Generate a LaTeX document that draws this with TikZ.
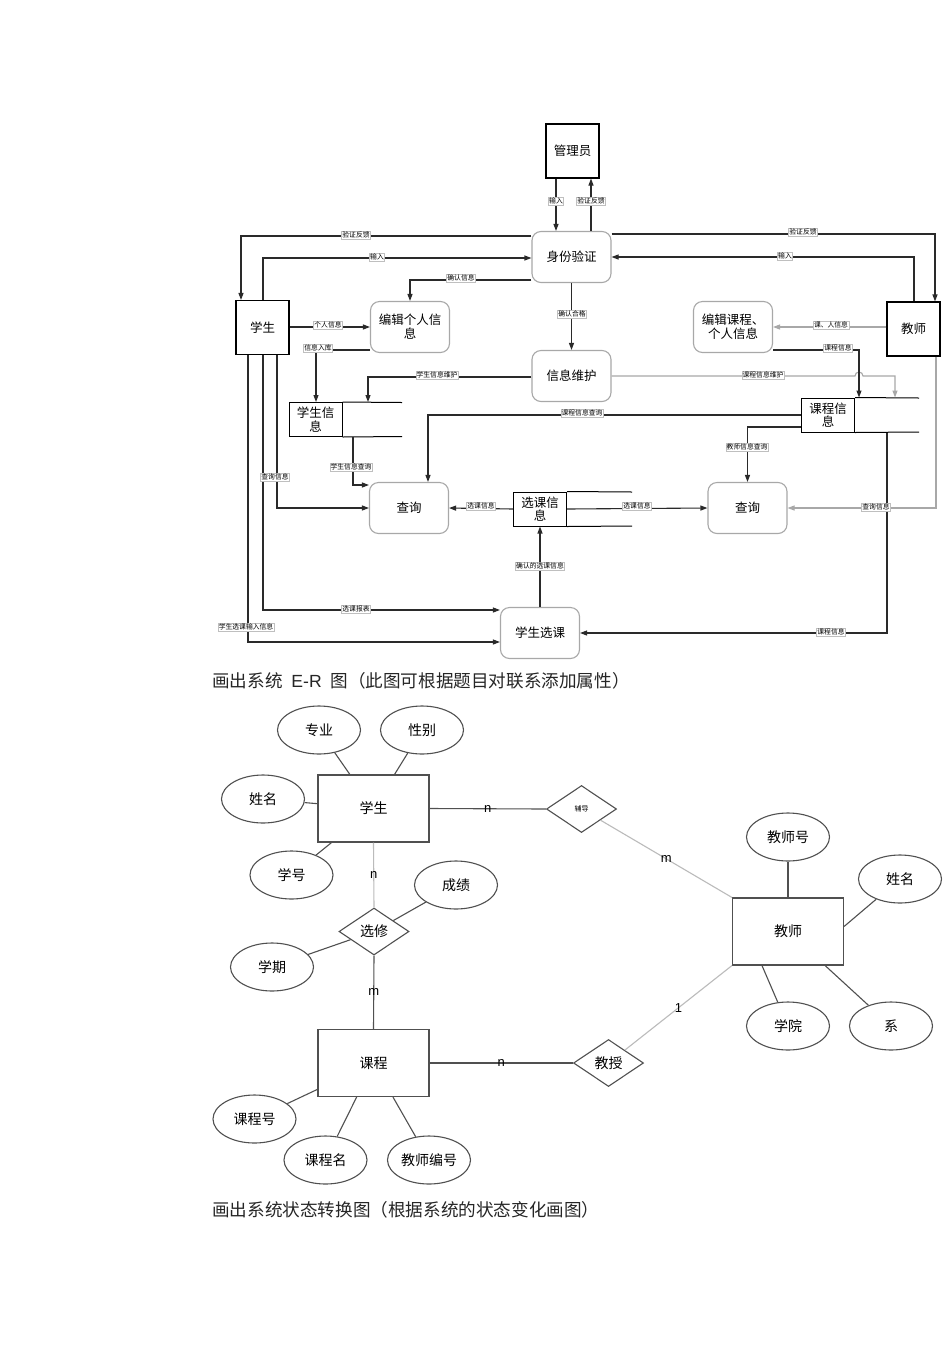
\documentclass[tikz,border=0pt]{standalone}
\usepackage{fontspec}
\setmainfont{Noto Sans CJK SC}
\newfontfamily\arialf{Liberation Sans}
\usetikzlibrary{arrows.meta,shapes.geometric}
\definecolor{ln}{HTML}{2A2A2A}
\definecolor{erc}{HTML}{505050}
\definecolor{lg}{HTML}{A8A8A8}
\definecolor{gl}{HTML}{BBBBBB}
\begin{document}
\begin{tikzpicture}[x=1pt,y=-1pt,
  every node/.style={font=\fontsize{12.5}{14}\selectfont},
  extbox/.style={draw=black,line width=1.1pt,minimum width=53pt,minimum height=54pt,inner sep=0pt},
  procbox/.style={draw=lg,line width=1.1pt,rounded corners=9pt,minimum width=79pt,minimum height=51pt,inner sep=0pt,align=center},
  storebox/.style={draw=black,line width=1pt,minimum width=53pt,minimum height=34pt,inner sep=0pt,align=center,font=\fontsize{12.5}{13.5}\selectfont},
  flow/.style={draw=ln,line width=1.1pt,-{Triangle[length=7pt,width=5pt]}},
  gflow/.style={flow,draw=lg},
  lbl/.style={fill=white,draw=gray!50,line width=0.3pt,inner sep=0.8pt,font=\fontsize{6.8}{7}\selectfont},
  ent/.style={draw=erc,line width=1.1pt,minimum width=111pt,minimum height=67pt,inner sep=0pt,font=\fontsize{14}{16}\selectfont},
  attr/.style={ellipse,draw=erc,line width=1.1pt,minimum width=83pt,minimum height=48pt,inner sep=0pt,font=\fontsize{14}{16}\selectfont},
  rel/.style={diamond,draw=erc,line width=1.1pt,minimum width=70pt,minimum height=47pt,inner sep=0pt,font=\fontsize{14}{16}\selectfont},
  eline/.style={draw=erc,line width=1.1pt},
  gline/.style={draw=gl,line width=1.1pt},
  card/.style={inner sep=0pt,font=\arialf\fontsize{13}{13}\selectfont},
  ttl/.style={anchor=west,inner sep=0pt,text=black!85,font=\fontsize{17.6}{18}\selectfont}]
\useasboundingbox (0,0) rectangle (950,1345);
\fill[white] (0,0) rectangle (950,1345);

% ---------------- data flow diagram ----------------
\node[extbox] (gly) at (572.5,151) {管理员};
\node[procbox] (sfyz) at (571.5,257) {身份验证};
\node[extbox] (xs) at (262.5,327.5) {学生};
\node[procbox] (bj) at (410,327) {编辑个人信\\息};
\node[procbox] (xxwh) at (571.5,376) {信息维护};
\node[procbox] (bjkc) at (733,327) {编辑课程、\\个人信息};
\node[extbox] (js) at (913.5,329) {教师};
\node[storebox] (xsxx) at (315.5,419.5) {学生信\\息};
\node[storebox] (kcxx) at (828,415) {课程信\\息};
\node[storebox] (xkxx) at (540,509) {选课信\\息};
\node[procbox] (cx1) at (409,508) {查询};
\node[procbox] (cx2) at (747.5,508) {查询};
\node[procbox] (xsxk) at (540,633) {学生选课};

% open sides of data stores
\draw[line width=1pt] (xsxx.north east) -- (402,402.5) (xsxx.south east) -- (402,436.5);
\draw[line width=1pt] (kcxx.north east) -- (919,398) (kcxx.south east) -- (919,432);
\draw[line width=1pt] (xkxx.north east) -- (632,492) (xkxx.south east) -- (632,526);

% flows
\draw[flow] (gly.south -| 556,0) -- (sfyz.north -| 556,0);
\draw[flow] (sfyz.north -| 591,0) -- (gly.south -| 591,0);
\draw[flow] (sfyz.west |- 0,236) -| (xs.north -| 241,0);
\draw[flow] (xs.north -| 263,0) |- (sfyz.west |- 0,258);
\draw[flow] (sfyz.west |- 0,280) -| (bj.north);
\draw[flow] (sfyz.east |- 0,234) -| (js.north -| 935,0);
\draw[flow] (js.north -| 914,0) |- (sfyz.east |- 0,257);
\draw[flow] (sfyz.south) -- (xxwh.north);
\draw[flow] (xs.east |- 0,327) -- (bj.west |- 0,327);
\draw[flow] (bj.west |- 0,350) -| (xsxx.north -| 316,0);
\draw[flow] (xxwh.west |- 0,377) -| (xsxx.north -| 368,0);
\draw[gflow] (xxwh.east |- 0,376) -- (855,376) arc[start angle=180,end angle=0,radius=4pt] -| (kcxx.north -| 895,0);
\draw[gflow] (js.west |- 0,327) -- (bjkc.east |- 0,327);
\draw[flow] (bjkc.east |- 0,350) -| (kcxx.north -| 859,0);
\draw[flow] (kcxx.west |- 0,415) -| (cx1.north -| 428,0);
\draw[flow] (kcxx.west |- 0,427) -| (cx2.north);
\draw[flow] (xsxx.south -| 353,0) |- (cx1.west |- 0,485);
\draw[flow] (xs.south -| 277,0) |- (cx1.west);
\draw[flow] (xs.south -| 263,0) |- (xsxk.west |- 0,610);
\draw[flow] (xs.south -| 248,0) |- (xsxk.west |- 0,642);
\draw[flow] (xkxx.west) -- (cx1.east);
\draw[flow] (xkxx.east) -- (cx2.west);
\draw[gflow] (js.south -| 936,0) |- (cx2.east);
\draw[flow] (kcxx.south -| 887,0) |- (xsxk.east);
\draw[flow] (xsxk.north) -- (xkxx.south);

% flow labels
\node[lbl] (l1) at (556,201) {输入};
\node[lbl] (l2) at (591,201) {验证反馈};
\node[lbl] (l3) at (356,235) {验证反馈};
\node[lbl] (l4) at (377,257) {输入};
\node[lbl] (l5) at (461,278) {确认信息};
\node[lbl] (l6) at (803,232) {验证反馈};
\node[lbl] (l7) at (785,256) {输入};
\node[lbl] (l8) at (572,314) {确认合格};
\node[lbl] (l9) at (328,325) {个人信息};
\node[lbl] (l10) at (318,348) {信息入库};
\node[lbl] (l11) at (437,375) {学生信息维护};
\node[lbl] (l12) at (763,375) {课程信息维护};
\node[lbl] (l13) at (831,325) {课、人信息};
\node[lbl] (l14) at (838,348) {课程信息};
\node[lbl] (l15) at (582,413) {课程信息查询};
\node[lbl] (l16) at (747,447) {教师信息查询};
\node[lbl] (l17) at (351,467) {学生信息查询};
\node[lbl] (l18) at (275,477) {查询信息};
\node[lbl] (l19) at (356,609) {选课报表};
\node[lbl] (l20) at (246,627) {学生选课输入信息};
\node[lbl] (l21) at (481,506) {选课信息};
\node[lbl] (l22) at (637,506) {选课信息};
\node[lbl] (l23) at (876,507) {查询信息};
\node[lbl] (l24) at (831,632) {课程信息};
\node[lbl] (l25) at (540,566) {确认的选课信息};

% ---------------- titles ----------------
\node[ttl] (t1) at (212,681) {画出系统\hspace{0.5em}{\arialf E-R}\hspace{0.5em}图（此图可根据题目对联系添加属性）};
\node[ttl] (t2) at (212,1210) {画出系统状态转换图（根据系统的状态变化画图）};

% ---------------- E-R diagram ----------------
\node[ent] (e1) at (373.5,808.5) {学生};
\node[ent] (e2) at (373.5,1063) {课程};
\node[ent] (e3) at (788,931.5) {教师};
\node[rel] (r1) at (374,931.5) {选修};
\node[rel,font=\fontsize{7}{8}\selectfont] (r2) at (581.5,809) {辅导};
\node[rel] (r3) at (608.5,1063) {教授};
\node[attr] (a1) at (319,730) {专业};
\node[attr] (a2) at (422,730) {性别};
\node[attr] (a3) at (263,799) {姓名};
\node[attr] (a4) at (291.5,875) {学号};
\node[attr] (a5) at (456,885) {成绩};
\node[attr] (a6) at (272,967) {学期};
\node[attr] (a7) at (254.5,1119) {课程号};
\node[attr] (a8) at (325.5,1160) {课程名};
\node[attr] (a9) at (429,1160) {教师编号};
\node[attr] (a10) at (788,837) {教师号};
\node[attr] (a11) at (900,879) {姓名};
\node[attr] (a12) at (788,1026) {学院};
\node[attr] (a13) at (891,1026) {系};

\draw[eline] (e1) -- (a1);
\draw[eline] (e1) -- (a2);
\draw[eline] (e1) -- (a3);
\draw[eline] (e1) -- (a4);
\draw[eline] (r1) -- (a5);
\draw[eline] (r1) -- (a6);
\draw[eline] (e2) -- (a7);
\draw[eline] (e2) -- (a8);
\draw[eline] (e2) -- (a9);
\draw[eline] (e3) -- (a10);
\draw[eline] ([yshift=5pt]e3.east) -- (a11);
\draw[eline] (e3.south -| 762,0) -- (a12);
\draw[eline] (e3) -- (a13);

\draw[eline] (e1.east) -- (r2.west) node[card,pos=0.5] {n};
\draw[gline] (r2) -- (e3.north west) node[card,pos=0.5] {m};
\draw[gline] (e1.south) -- (r1.north) node[card,pos=0.5] {n};
\draw[eline] (r1.south) -- (e2.north) node[card,pos=0.5] {m};
\draw[eline] (e2.east) -- (r3.west) node[card,pos=0.5] {n};
\draw[gline] (r3) -- (e3.south west) node[card,pos=0.5] {1};
\end{tikzpicture}
\end{document}
